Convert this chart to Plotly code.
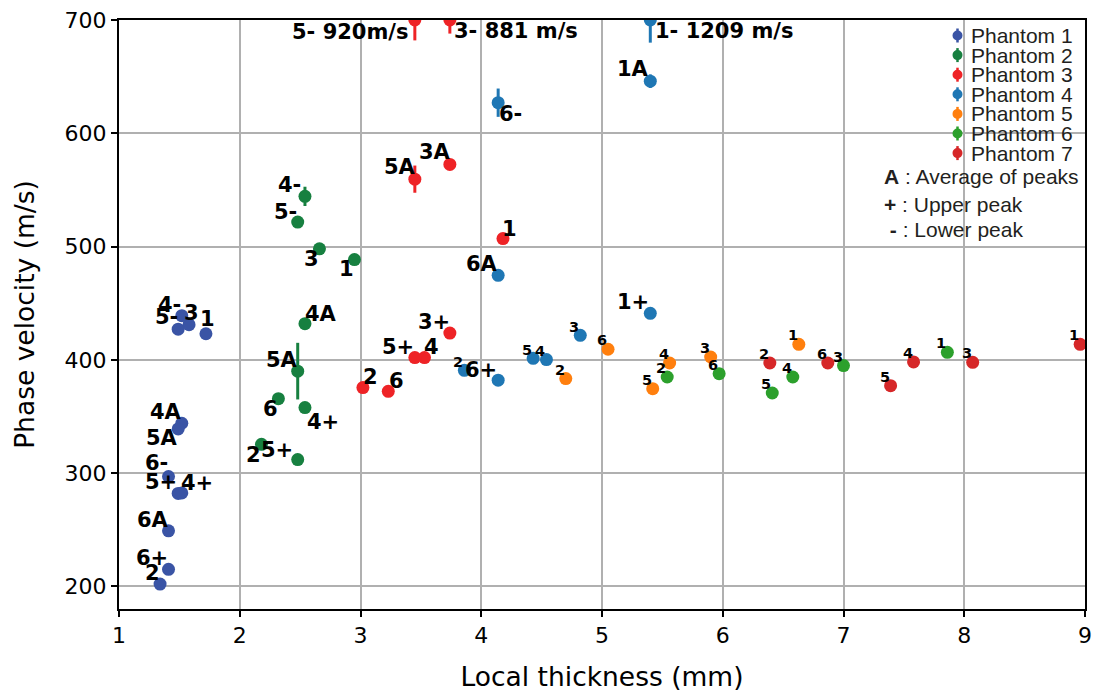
import plotly.graph_objects as go

# ---------------- data ----------------
phantoms = ["Phantom 1", "Phantom 2", "Phantom 3", "Phantom 4", "Phantom 5", "Phantom 6", "Phantom 7"]

p1_labels = ["1", "2", "3", "4-", "5-", "4A", "5A", "6-", "5+", "4+", "6A", "6+"]
p1_x = [1.72, 1.34, 1.58, 1.52, 1.49, 1.52, 1.49, 1.41, 1.49, 1.52, 1.41, 1.41]
p1_y = [423, 202, 431, 439, 427, 344, 339, 297, 282, 282.5, 249, 215]
p1_err = [0] * 12

p2_labels = ["1", "2", "3", "4-", "5-", "4A", "5A", "6", "4+", "5+"]
p2_x = [2.95, 2.18, 2.66, 2.54, 2.48, 2.54, 2.48, 2.32, 2.54, 2.48]
p2_y = [488.5, 325.4, 498, 544.3, 521.6, 431.9, 390, 365.7, 357.8, 311.9]
p2_err = [0, 0, 0, 8.5, 0, 0, 25, 0, 0, 0]

p3_labels = ["1", "2", "3+", "3A", "3- 881 m/s", "4", "5+", "5A", "5- 920m/s", "6"]
p3_x = [4.18, 3.02, 3.74, 3.74, 3.74, 3.53, 3.45, 3.45, 3.45, 3.23]
p3_y = [507, 375.5, 423.6, 572.5, 881, 402, 402, 559.5, 920, 372.2]
p3_err = [0, 0, 0, 2, 12, 0, 0, 12, 18, 0]

p4_labels = ["1- 1209 m/s", "1A", "1+", "2", "3", "4", "5", "6-", "6A", "6+"]
p4_x = [5.40, 5.40, 5.40, 3.86, 4.82, 4.54, 4.43, 4.14, 4.14, 4.14]
p4_y = [1209, 646, 441, 390.7, 421.6, 400.2, 401.3, 627, 474.6, 382]
p4_err = [20, 6, 0, 0, 0, 0, 0, 12.5, 0, 0]

p5_labels = ["1", "2", "3", "4", "5", "6"]
p5_x = [6.63, 4.70, 5.90, 5.56, 5.42, 5.05]
p5_y = [413.7, 383.4, 402.5, 397.2, 374.5, 409.3]
p5_err = [0] * 6

p6_labels = ["1", "2", "3", "4", "5", "6"]
p6_x = [7.86, 5.54, 7.00, 6.58, 6.41, 5.97]
p6_y = [406.6, 384.8, 394.9, 384.8, 370.7, 387.8]
p6_err = [0] * 6

p7_labels = ["1", "2", "3", "4", "5", "6"]
p7_x = [8.96, 6.39, 8.07, 7.58, 7.39, 6.87]
p7_y = [413.7, 397.2, 397.8, 398.1, 377.2, 397.2]
p7_err = [0] * 6

x_ticks = [1, 2, 3, 4, 5, 6, 7, 8, 9]
y_ticks = [200, 300, 400, 500, 600, 700]
x_range = [1, 9]
y_range = [180, 700]

legend_notes = ["<b>A</b> : Average of peaks", "<b>+</b> : Upper peak", " <b>-</b> : Lower peak"]

# ---------------- styles ----------------
colors = ["#3a54a5", "#178040", "#ee2326", "#1f77b4", "#ff7f0e", "#2ca02c", "#d62728"]
BIG, SMALL = 21, 14.5

# label offsets (dx, dy in px, screen down positive), anchor, size
p1_style = [(2, -15), (-8, -11), (2, -12), (-12, -11), (-12, -12), (-16, -11), (-16, 9),
            (-12, -13), (-17, -11), (15, -10), (-16, -11), (-17, -11)]
p2_style = [(-8, 9), (-8, 11), (-8, 10), (-15, -11), (-12, -10), (16, -10), (-16, -11),
            (-8, 10), (18, 14), (-21, -10)]
p3_style = [(7, -10), (8, -11), (-16, -11), (-15, -12), (2, 10.5), (7, -11), (-17, -11),
            (-15, -12), (-4, 11.5), (8, -10)]
p3_anchor = ["center"] * 4 + ["left"] + ["center"] * 3 + ["right", "center"]
p4_style = [(3, 10.5), (-17, -12), (-17, -11), (-6, -8), (-6, -8), (-6, -9), (-6, -8),
            (12, 11), (-16, -11), (-17, -10)]
p4_anchor = ["left"] + ["center"] * 9
p4_size = [BIG, BIG, BIG, SMALL, SMALL, SMALL, SMALL, BIG, BIG, BIG]
small_style = [(-6, -9)] * 6

groups = [
    (p1_x, p1_y, p1_err, p1_labels, p1_style, ["center"] * 12, [BIG] * 12),
    (p2_x, p2_y, p2_err, p2_labels, p2_style, ["center"] * 10, [BIG] * 10),
    (p3_x, p3_y, p3_err, p3_labels, p3_style, p3_anchor, [BIG] * 10),
    (p4_x, p4_y, p4_err, p4_labels, p4_style, p4_anchor, p4_size),
    (p5_x, p5_y, p5_err, p5_labels, small_style, ["center"] * 6, [SMALL] * 6),
    (p6_x, p6_y, p6_err, p6_labels, small_style, ["center"] * 6, [SMALL] * 6),
    (p7_x, p7_y, p7_err, p7_labels, small_style, ["center"] * 6, [SMALL] * 6),
]

fig = go.Figure()
annotations = []
shapes = []

for name, color, (xs, ys, errs, labs, sty, anch, sizes) in zip(phantoms, colors, groups):
    # values above the axis top are shown pinned to the top edge (clipped)
    ys_shown = [min(v, y_range[1]) for v in ys]
    fig.add_trace(go.Scatter(
        x=xs, y=ys_shown, mode="markers", name=name,
        marker=dict(color=color, size=13),
        error_y=dict(type="data", array=errs, visible=True, color=color, thickness=3, width=0),
        cliponaxis=True, showlegend=False,
    ))
    for xv, yv, lab, (dx, dy), a, fs in zip(xs, ys_shown, labs, sty, anch, sizes):
        annotations.append(dict(
            x=xv, y=yv, xref="x", yref="y", text=lab, showarrow=False,
            xanchor=a, yanchor="middle", xshift=dx, yshift=-dy,
            font=dict(family="DejaVu Sans", size=fs, color="black", weight="bold"),
        ))

# ---------------- layout geometry ----------------
PAGE_OFF = 8                     # page body margin around the figure
W, H = 1100, 684
PL, PT, PW, PH = 119, 20, 966, 589   # plot area on the page
ML, MT = PL - PAGE_OFF, PT - PAGE_OFF
MR, MB = W - ML - PW, H - MT - PH

def px_to_paper_x(px):
    return (px - PL) / PW

def px_to_paper_y(py):
    return 1 - (py - PT) / PH

# ---------------- custom legend ----------------
leg_y0, leg_dy = 35.5, 19.6
for i, (name, color) in enumerate(zip(phantoms, colors)):
    py = leg_y0 + i * leg_dy
    yp = px_to_paper_y(py)
    xg = px_to_paper_x(957.5)
    shapes.append(dict(type="line", xref="paper", yref="paper", xsizemode="pixel", ysizemode="pixel",
                       xanchor=xg, yanchor=yp, x0=0, x1=0, y0=-7, y1=7,
                       line=dict(color=color, width=2.5)))
    shapes.append(dict(type="circle", xref="paper", yref="paper", xsizemode="pixel", ysizemode="pixel",
                       xanchor=xg, yanchor=yp, x0=-5, x1=5, y0=-5, y1=5,
                       fillcolor=color, line=dict(color=color, width=0)))
    annotations.append(dict(
        x=px_to_paper_x(969), y=yp, xref="paper", yref="paper", text=name, showarrow=False,
        xanchor="left", yanchor="middle",
        font=dict(family="Liberation Sans", size=21, color="#231f20"),
    ))

for note, py in zip(legend_notes, [177, 205, 229]):
    annotations.append(dict(
        x=px_to_paper_x(882), y=px_to_paper_y(py), xref="paper", yref="paper", text=note,
        showarrow=False, xanchor="left", yanchor="middle",
        font=dict(family="Liberation Sans", size=21, color="#231f20"),
    ))

fig.update_layout(
    width=W, height=H,
    margin=dict(l=ML, r=MR, t=MT, b=MB, autoexpand=False),
    paper_bgcolor="white", plot_bgcolor="white",
    showlegend=False,
    annotations=annotations, shapes=shapes,
    font=dict(family="DejaVu Sans", color="black"),
)
axis_common = dict(
    showgrid=True, gridcolor="#b0b0b0", gridwidth=1.6,
    showline=True, linecolor="black", linewidth=2, mirror=True,
    ticks="outside", ticklen=6, tickwidth=1.8, tickcolor="black",
    tickfont=dict(family="DejaVu Sans", size=22, color="black"),
    ticklabeloverflow="allow",
    zeroline=False, automargin=False,
)
fig.update_xaxes(range=x_range, tickvals=x_ticks,
                 title=dict(text="Local thickness (mm)", font=dict(family="DejaVu Sans", size=26.5), standoff=20),
                 **axis_common)
fig.update_yaxes(range=y_range, tickvals=y_ticks,
                 title=dict(text="Phase velocity (m/s)", font=dict(family="DejaVu Sans", size=26.5), standoff=22),
                 **axis_common)

fig.write_html("out.html")
